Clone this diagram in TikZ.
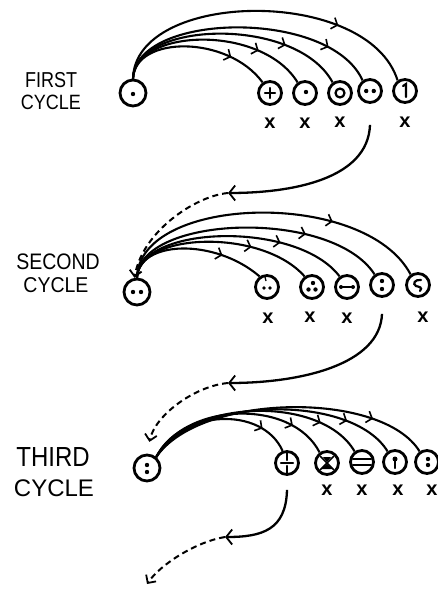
\documentclass[tikz,border=0pt]{standalone}
\usepackage{fontspec}
\usepackage{graphicx}
\setmainfont{Liberation Sans}
\usetikzlibrary{arrows.meta,decorations.markings}
\begin{document}
\begin{tikzpicture}[x=1pt,y=-1pt,
  cell/.style={circle,draw,line width=2.8pt,minimum size=23pt,inner sep=0pt},
  src/.style={cell,minimum size=26pt},
  lblA/.style={font=\fontsize{18}{18}\selectfont, inner sep=0pt},
  lblB/.style={font=\fontsize{19.5}{19.5}\selectfont, inner sep=0pt},
  lblC/.style={font=\fontsize{24}{24}\selectfont, inner sep=0pt},
  xm/.style={font=\fontsize{20}{20}\selectfont\bfseries, inner sep=0pt},
  arcpath/.style={line width=2.1pt, postaction={decorate},
    decoration={markings, mark=at position #1 with {\arrow[line width=1.6pt]{Straight Barb[length=5pt,width=12pt]}}}},
  ret/.style={line width=2.3pt, -{Straight Barb[length=6pt,width=15pt,line width=1.8pt]}},
  dsh/.style={line width=2pt, dash pattern=on 6pt off 4pt, -{Straight Barb[length=6pt,width=12pt,line width=1.8pt]}},
  gl/.style={line width=2.2pt, line cap=round},
]
\fill[white] (0,0) rectangle (437,589);
\useasboundingbox (0,0) rectangle (437,589);

% ---------- labels ----------
\node[lblA] (l1a) at (51,80) {\scalebox{1}[1.2]{FIRST}};
\node[lblA] (l1b) at (51,102) {\scalebox{1}[1.15]{CYCLE}};
\node[lblB] (l2a) at (58,262) {\scalebox{1}[1.15]{SECOND}};
\node[lblB] (l2b) at (56,285) {\scalebox{1}[1.1]{CYCLE}};
\node[lblC] (l3a) at (53,457) {\scalebox{1}[1.15]{THIRD}};
\node[lblC] (l3b) at (54,488) {CYCLE};

% ---------- first cycle ----------
\node[src] (s1) at (133,93) {};
\node[cell] (t11) at (270,93) {};
\node[cell] (t12) at (305,93) {};
\node[cell] (t13) at (340,93) {};
\node[cell] (t14) at (370,91) {};
\node[cell] (t15) at (405,91) {};

\begin{scope}[shift={(s1.center)}] \fill (0,1) circle[radius=2.2pt]; \end{scope}
\begin{scope}[shift={(t11.center)}] \draw[gl] (-5,0)--(5,0) (0,-5)--(0,5); \end{scope}
\begin{scope}[shift={(t12.center)}] \fill (1,-1) circle[radius=2.2pt]; \end{scope}
\begin{scope}[shift={(t13.center)}] \draw[line width=2.2pt] (0,0) circle[radius=4.5pt]; \end{scope}
\begin{scope}[shift={(t14.center)}] \fill (-3.8,0) circle[radius=2.2pt] (3.8,0) circle[radius=2.2pt]; \end{scope}
\begin{scope}[shift={(t15.center)}] \draw[gl] (-2,-5)--(1,-7)--(1,6); \end{scope}

\node[xm] (x11) at (270,123) {x};
\node[xm] (x12) at (305,123) {x};
\node[xm] (x13) at (340,122) {x};
\node[xm] (x15) at (405,122) {x};

\draw[arcpath=0.74] (s1.north) .. controls (135,35) and (228,35) .. (t11.125);
\draw[arcpath=0.74] (s1.north) .. controls (135,28) and (262,24) .. (t12.125);
\draw[arcpath=0.74] (s1.north) .. controls (135,20) and (297,16) .. (t13.125);
\draw[arcpath=0.82] (s1.north) .. controls (135,12) and (330,8) .. (t14.125);
\draw[arcpath=0.74] (s1.north) .. controls (135,-10) and (368,-14) .. (t15.125);

% ---------- second cycle ----------
\node[src] (s2) at (137,292) {};
\node[cell] (t21) at (267,287) {};
\node[cell] (t22) at (312,287) {};
\node[cell] (t23) at (347,287) {};
\node[cell] (t24) at (382,285) {};
\node[cell] (t25) at (418,285) {};

\begin{scope}[shift={(s2.center)}] \fill (-4,0) circle[radius=2.2pt] (4,0) circle[radius=2.2pt]; \end{scope}
\begin{scope}[shift={(t21.center)}] \fill (-3,1) circle[radius=1.8pt] (3,1) circle[radius=1.8pt]; \draw[line width=1.3pt] (-2,-10)--(-1,-6); \end{scope}
\begin{scope}[shift={(t22.center)}] \fill (1,-4) circle[radius=2.2pt] (-3.5,2.5) circle[radius=2.2pt] (3.5,2.5) circle[radius=2.2pt]; \end{scope}
\begin{scope}[shift={(t23.center)}] \draw[gl] (-6,0)--(6,0); \fill (-6,0) circle[radius=2pt] (6,0) circle[radius=2pt]; \end{scope}
\begin{scope}[shift={(t24.center)}] \fill (0,-4) circle[radius=2.2pt] (0,4) circle[radius=2.2pt]; \end{scope}
\begin{scope}[shift={(t25.center)}] \draw[gl] (3,-5) .. controls (-3,-6) and (-6,-1) .. (-2,1) .. controls (1,2) and (5,2) .. (2,6); \end{scope}

\node[xm] (x21) at (268,318) {x};
\node[xm] (x22) at (310,317) {x};
\node[xm] (x23) at (347,318) {x};
\node[xm] (x25) at (423,317) {x};

\draw[arcpath=0.7] (s2.north) .. controls (139,240) and (215,238) .. (t21.125);
\draw[arcpath=0.68] (s2.north) .. controls (139,232) and (262,228) .. (t22.125);
\draw[arcpath=0.7] (s2.north) .. controls (139,225) and (297,220) .. (t23.125);
\draw[arcpath=0.7] (s2.north) .. controls (139,215) and (332,208) .. (t24.125);
\draw[arcpath=0.7] (s2.north) .. controls (139,195) and (365,188) .. (t25.125);

% ---------- third cycle ----------
\node[src] (s3) at (147,468) {};
\node[cell] (t31) at (287,463) {};
\node[cell] (t32) at (327,463) {};
\node[cell] (t33) at (362,462) {};
\node[cell] (t34) at (395,462) {};
\node[cell] (t35) at (427,462) {};

\begin{scope}[shift={(s3.center)}] \fill (0,-3) circle[radius=2.2pt] (0,4) circle[radius=2.2pt]; \end{scope}
\begin{scope}[shift={(t31.center)}] \draw[gl] (-6,0)--(6,0) (0,-10)--(0,-3) (0,3)--(0,10); \end{scope}
\begin{scope}[shift={(t32.center)}]
  \draw[line width=1.5pt] (-7,-7)--(7,7) (7,-7)--(-7,7);
  \fill (-4,-6)--(4,-6)--(0,-1)--cycle; \fill (-6,6)--(6,6)--(0,1)--cycle;
\end{scope}
\begin{scope}[shift={(t33.center)}] \draw[gl] (-9,-3)--(9,-3) (-9,3)--(9,3); \end{scope}
\begin{scope}[shift={(t34.center)}] \fill (0,-3) circle[radius=2.5pt]; \draw[gl] (0,-3)--(0,6); \end{scope}
\begin{scope}[shift={(t35.center)}] \fill (1,-3) circle[radius=2.2pt] (1,3) circle[radius=2.2pt]; \end{scope}

\node[xm] (x32) at (327,490) {x};
\node[xm] (x33) at (362,490) {x};
\node[xm] (x34) at (398,490) {x};
\node[xm] (x35) at (432,490) {x};

\draw[arcpath=0.8] (s3.50) .. controls (180,410) and (262,405) .. (t31.110);
\draw[arcpath=0.8] (s3.50) .. controls (185,402) and (292,398) .. (t32.125);
\draw[arcpath=0.8] (s3.50) .. controls (190,398) and (322,395) .. (t33.125);
\draw[arcpath=0.8] (s3.50) .. controls (195,396) and (352,393) .. (t34.125);
\draw[arcpath=0.8] (s3.50) .. controls (200,393) and (382,390) .. (t35.125);

% ---------- returns ----------
\coordinate (r1) at (228,193);
\coordinate (r2) at (228,383);
\coordinate (r3) at (225,537);
\coordinate (e3) at (147,584);

\draw[ret] ([yshift=-21pt]t14.south) .. controls (368,180) and (290,193) .. (r1);
\draw[dsh] (r1) .. controls (195,196) and (142,232) .. (s2.100);
\draw[ret] ([yshift=-16pt]t24.south) .. controls (380,365) and (300,383) .. (r2);
\draw[dsh, shorten >=12pt] (r2) .. controls (195,386) and (155,415) .. (s3.north);
\draw[ret] ([yshift=-14pt]t31.south) .. controls (286,530) and (262,537) .. (r3);
\draw[dsh] (r3) .. controls (195,542) and (160,565) .. (e3);
\end{tikzpicture}
\end{document}
